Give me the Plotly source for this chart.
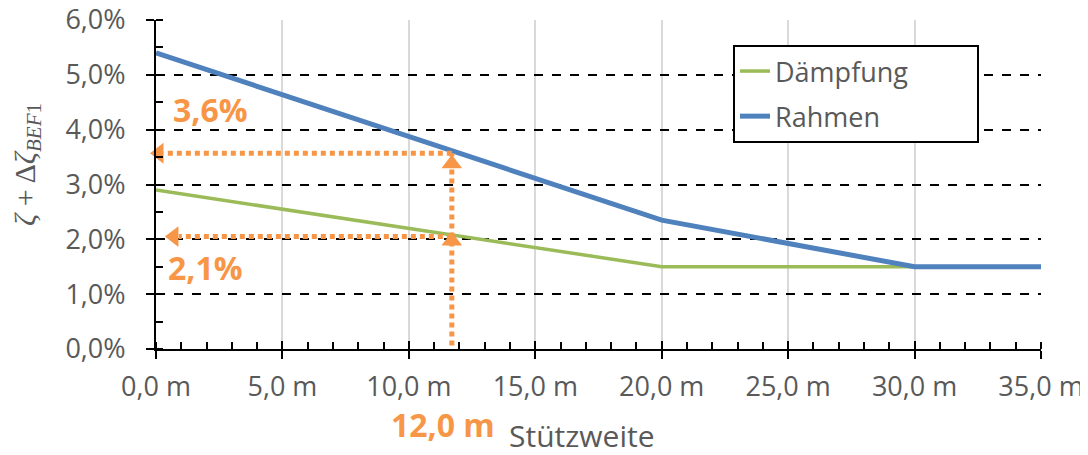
import plotly.graph_objects as go

# ---- data ----
spans = [0, 20, 30, 35]
rahmen = [5.4, 2.35, 1.5, 1.5]
daempfung_x = [0, 20, 35]
daempfung = [2.9, 1.5, 1.5]

x_ticks = [0, 5, 10, 15, 20, 25, 30, 35]
x_ticktext = ["0,0 m", "5,0 m", "10,0 m", "15,0 m", "20,0 m", "25,0 m", "30,0 m", "35,0 m"]
y_ticks = [0, 1, 2, 3, 4, 5, 6]
y_ticktext = ["0,0%", "1,0%", "2,0%", "3,0%", "4,0%", "5,0%", "6,0%"]

# reading example
read_x = 11.7
read_rahmen = 3.57
read_daempfung = 2.05
vert_x = [read_x, read_x]
vert_y = [-0.1, read_rahmen]
hor1_x = [read_x, 0.3]
hor1_y = [read_rahmen, read_rahmen]
hor2_x = [read_x, 0.9]
hor2_y = [read_daempfung, read_daempfung]
head_left_x = [0.12, 0.71]
head_left_y = [read_rahmen, read_daempfung]
head_up_x = [read_x, read_x]
head_up_y = [3.38, 1.97]

GREEN = "#9BBB59"
BLUE = "#4F81BD"
ORANGE = "#F79646"
GREY = "#595959"
FONT = "Open Sans"
PAD = "\u00a0" * 9

fig = go.Figure()

fig.add_trace(go.Scatter(x=daempfung_x, y=daempfung, mode="lines", name="Dämpfung" + PAD,
                         line=dict(color=GREEN, width=3.5), legendgroup="a"))
fig.add_trace(go.Scatter(x=spans, y=rahmen, mode="lines", name="Rahmen" + PAD,
                         line=dict(color=BLUE, width=5), legendgroup="b"))

dot = dict(color=ORANGE, width=5, dash="5px,4px")
for xs, ys in [(vert_x, vert_y), (hor1_x, hor1_y), (hor2_x, hor2_y)]:
    fig.add_trace(go.Scatter(x=xs, y=ys, mode="lines", line=dot, showlegend=False,
                             hoverinfo="skip"))
fig.add_trace(go.Scatter(x=head_left_x, y=head_left_y, mode="markers", showlegend=False,
                         marker=dict(symbol="triangle-left", size=18, color=ORANGE),
                         cliponaxis=False, hoverinfo="skip"))
fig.add_trace(go.Scatter(x=head_up_x, y=head_up_y, mode="markers", showlegend=False,
                         marker=dict(symbol="triangle-up", size=18, color=ORANGE),
                         cliponaxis=False, hoverinfo="skip"))

# dummy trace for overlay axes (inside halves of major ticks)
fig.add_trace(go.Scatter(x=[0], y=[0], xaxis="x2", yaxis="y2", mode="none",
                         showlegend=False, hoverinfo="skip"))

tickfont = dict(family=FONT, size=27, color=GREY)

# the page body adds an 8px offset; compensate in size/margins
fig.update_layout(
    width=1080, height=447,
    margin=dict(l=148, r=47, t=12, b=106),
    paper_bgcolor="white", plot_bgcolor="white",
    font=dict(family=FONT, color=GREY),
    xaxis=dict(range=[0, 35], tickvals=x_ticks, ticktext=x_ticktext, automargin=False,
               tickfont=tickfont, ticks="outside", ticklen=8, tickwidth=2,
               tickcolor="black", ticklabelstandoff=5, ticklabeloverflow="allow",
               showline=True, linecolor="black", linewidth=2,
               showgrid=True, gridcolor="#D9D9D9", gridwidth=2,
               zeroline=False,
               minor=dict(dtick=1, ticks="inside", ticklen=7, tickwidth=2,
                          tickcolor="black", showgrid=False)),
    yaxis=dict(range=[0, 6], tickvals=y_ticks, ticktext=y_ticktext, automargin=False,
               tickfont=tickfont, ticks="outside", ticklen=8, tickwidth=2,
               tickcolor="black", ticklabelstandoff=15, ticklabeloverflow="allow",
               showline=True, linecolor="black", linewidth=2,
               showgrid=True, gridcolor="black", gridwidth=1.5, griddash="dash",
               zeroline=False,
               minor=dict(dtick=0.5, ticks="inside", ticklen=7, tickwidth=2,
                          tickcolor="black", showgrid=False)),
    xaxis2=dict(range=[0, 35], overlaying="x", anchor="y2", tickvals=x_ticks,
                ticks="inside", ticklen=8, tickwidth=2, tickcolor="black", automargin=False,
                showticklabels=False, showgrid=False, showline=False, zeroline=False),
    yaxis2=dict(range=[0, 6], overlaying="y", anchor="x2", tickvals=y_ticks,
                ticks="inside", ticklen=8, tickwidth=2, tickcolor="black", automargin=False,
                showticklabels=False, showgrid=False, showline=False, zeroline=False),
    legend=dict(x=0.652, y=0.924, xanchor="left", yanchor="top",
                bgcolor="white", bordercolor="black", borderwidth=2,
                font=dict(family=FONT, size=27, color=GREY),
                tracegroupgap=7),
    showlegend=True,
)

ann_bold = dict(family=FONT, size=32, color=ORANGE, weight="bold")
fig.add_annotation(x=2.14, y=4.36, xref="x", yref="y", text="3,6%", showarrow=False,
                   font=ann_bold, xanchor="center", yanchor="middle")
fig.add_annotation(x=1.94, y=1.48, xref="x", yref="y", text="2,1%", showarrow=False,
                   font=ann_bold, xanchor="center", yanchor="middle")
fig.add_annotation(x=11.35, y=-0.228, xref="x", yref="paper", text="12,0 m",
                   showarrow=False, font=ann_bold, xanchor="center", yanchor="middle")
fig.add_annotation(x=0.481, y=-0.262, xref="paper", yref="paper", text="Stützweite",
                   showarrow=False, font=dict(family=FONT, size=30, color=GREY),
                   xanchor="center", yanchor="middle")
fig.add_annotation(x=-0.146, y=0.562, xref="paper", yref="paper",
                   text="<i>ζ</i> + Δ<i>ζ</i><sub><i>BEF</i>1</sub>", textangle=-90,
                   showarrow=False, font=dict(family="Liberation Serif", size=30, color=GREY),
                   xanchor="center", yanchor="middle")

fig.write_html("out.html")
